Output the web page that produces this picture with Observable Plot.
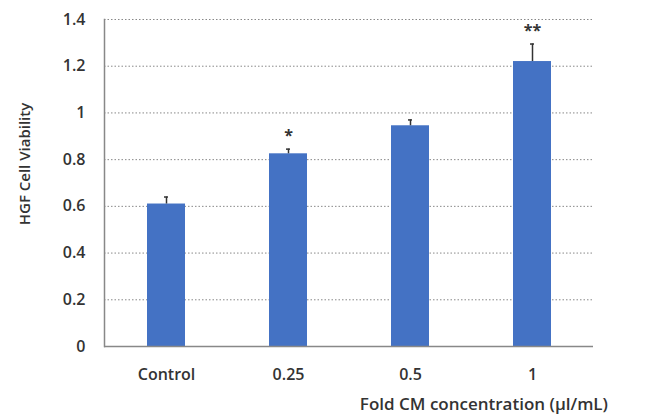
<!DOCTYPE html>
<html><head><meta charset="utf-8">
<script src="https://cdn.jsdelivr.net/npm/d3@7"></script>
<script src="https://cdn.jsdelivr.net/npm/@observablehq/plot@0.6"></script>
<style>
body{margin:0;background:#fff;}
#chart{position:relative;width:650px;height:417px;}
</style>
</head><body>
<div id="chart"></div>
<script>
const categories = ["Control", "0.25", "0.5", "1"];
const viability = [0.61, 0.825, 0.945, 1.22];
const errors = [0.03, 0.02, 0.025, 0.075];
const significance = ["", "*", "", "**"];
const yTicks = [0, 0.2, 0.4, 0.6, 0.8, 1, 1.2, 1.4];

const data = categories.map((c, i) => ({cat: c, v: viability[i], e: errors[i], sig: significance[i]}));

const font = "'Open Sans', sans-serif";
const plot = Plot.plot({
  width: 650, height: 417,
  marginLeft: 104, marginRight: 57, marginTop: 19, marginBottom: 71,
  style: {fontFamily: font, fontSize: "15px", color: "#333", background: "#fff"},
  x: {domain: categories, paddingInner: 0.69, paddingOuter: 0.345, label: null},
  y: {domain: [0, 1.4], label: null},
  marks: [
    Plot.gridY(yTicks.filter(t => t > 0), {stroke: "#888", strokeOpacity: 1, strokeDasharray: "1.5,2", strokeWidth: 1}),
    Plot.barY(data, {x: "cat", y: "v", fill: "#4472C4"}),
    Plot.ruleX(data, {x: "cat", y1: "v", y2: d => d.v + d.e, stroke: "#333", strokeWidth: 1.5}),
    Plot.tickY(data, {x: "cat", y: d => d.v + d.e, stroke: "#333", strokeWidth: 1.5, inset: 17}),
    Plot.text(data, {x: "cat", y: d => d.v + d.e, text: "sig", dy: -13, fontSize: 16, fontWeight: "bold", fill: "#333"}),
    Plot.axisY({ticks: yTicks, tickSize: 0, tickPadding: 19, tickFormat: d => String(d), fontWeight: "600", fontSize: 16, label: null}),
    Plot.axisX({tickSize: 0, tickPadding: 22, fontWeight: "600", fontSize: 16, label: null}),
    Plot.ruleY([0], {stroke: "#888", strokeWidth: 1.5}),
    Plot.frame({anchor: "left", stroke: "#888", strokeWidth: 1.5})
  ]
});
document.getElementById("chart").appendChild(plot);

const svg = d3.select(plot);
svg.append("text")
  .attr("transform", "translate(26,164) rotate(-90)")
  .attr("text-anchor", "middle")
  .attr("dominant-baseline", "middle")
  .style("font-family", font).style("font-size", "15px").style("font-weight", "600").attr("fill", "#333")
  .text("HGF Cell Viability");
svg.append("text")
  .attr("x", 608).attr("y", 405)
  .attr("text-anchor", "end")
  .attr("dominant-baseline", "middle")
  .style("font-family", font).style("font-size", "17px").style("font-weight", "600").attr("fill", "#333")
  .text("Fold CM concentration (µl/mL)");
</script>
</body></html>
